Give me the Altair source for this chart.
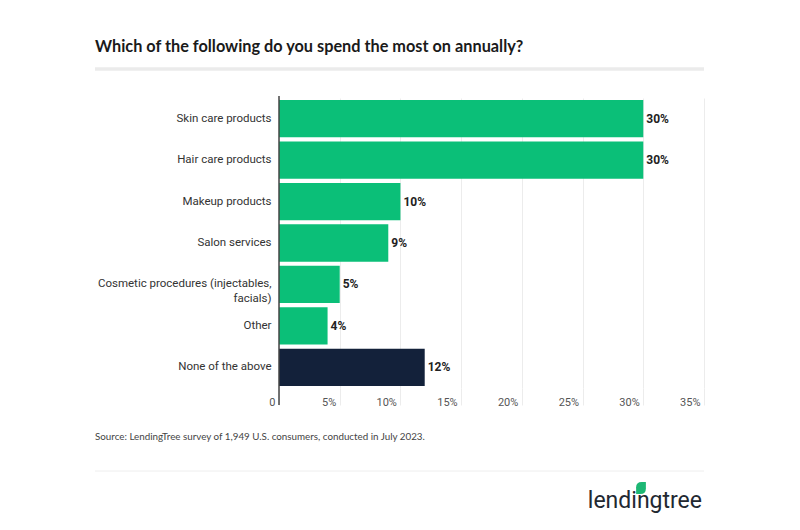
import altair as alt
import pandas as pd

categories = [
    "Skin care products",
    "Hair care products",
    "Makeup products",
    "Salon services",
    "Cosmetic procedures (injectables, facials)",
    "Other",
    "None of the above",
]
values = [30, 30, 10, 9, 5, 4, 12]
groups = ["a", "a", "a", "a", "a", "a", "b"]
tick_values = [0, 5, 10, 15, 20, 25, 30, 35]

title_text = "Which of the following do you spend the most on annually?"
source_text = "Source: LendingTree survey of 1,949 U.S. consumers, conducted in July 2023."
logo_text = "lendingtree"

df = pd.DataFrame({"cat": categories, "val": values, "grp": groups})
df["label"] = df["val"].astype(str) + "%"

W, H = 425, 290
GREEN = "#0bbf78"
NAVY = "#13213a"

xscale = alt.Scale(domain=[0, 35], nice=False)
ysort = categories

label_expr = (
    "datum.label == 'Cosmetic procedures (injectables, facials)' ? "
    "['Cosmetic procedures (injectables,', 'facials)'] : datum.label"
)

base = alt.Chart(df)

bars = base.mark_bar().encode(
    x=alt.X(
        "val:Q",
        scale=xscale,
        axis=alt.Axis(
            values=tick_values,
            title=None,
            domain=False,
            grid=True,
            gridColor="#ececec",
            gridWidth=1,
            ticks=True,
            tickSize=17,
            tickColor="#ececec",
            labelAlign="right",
            labelOffset=-4,
            labelPadding=-9,
            labelFont="Roboto",
            labelFontSize=11,
            labelColor="#555555",
            labelExpr="datum.value == 0 ? '0' : datum.value + '%'",
        ),
    ),
    y=alt.Y(
        "cat:N",
        sort=ysort,
        scale=alt.Scale(paddingInner=0.1, paddingOuter=0.05),
        axis=alt.Axis(
            title=None,
            domain=False,
            ticks=False,
            labelFont="Roboto",
            labelFontSize=11.5,
            labelColor="#333333",
            labelPadding=8,
            labelLimit=300,
            labelLineHeight=15,
            labelExpr=label_expr,
        ),
    ),
    color=alt.Color(
        "grp:N",
        scale=alt.Scale(domain=["a", "b"], range=[GREEN, NAVY]),
        legend=None,
    ),
)

texts = base.mark_text(
    align="left", baseline="middle", dx=3, font="Roboto", fontSize=12,
    fontWeight="bold", color="#222222",
).encode(
    x=alt.X("val:Q", scale=xscale),
    y=alt.Y("cat:N", sort=ysort),
    text="label:N",
)

zero_line = alt.Chart(pd.DataFrame({"z": [0]})).mark_rule(
    color="#444444", strokeWidth=1.5
).encode(
    x=alt.X("z:Q", scale=xscale),
    y=alt.value(-2),
    y2=alt.value(H + 17),
)

deco = pd.DataFrame({"t": [title_text]})
title = alt.Chart(deco).mark_text(
    align="left", baseline="alphabetic", font="Lato", fontSize=16.3,
    fontWeight="bold", color="#1a1a1a",
).encode(x=alt.value(-184), y=alt.value(-46), text="t:N")

top_line = alt.Chart(deco).mark_rule(color="#ebebeb", strokeWidth=3.5).encode(
    x=alt.value(-184), x2=alt.value(425), y=alt.value(-29)
)

source = alt.Chart(pd.DataFrame({"t": [source_text]})).mark_text(
    align="left", baseline="middle", font="Lato", fontSize=9.8, color="#444444"
).encode(x=alt.value(-184), y=alt.value(339), text="t:N")

bottom_line = alt.Chart(deco).mark_rule(color="#eeeeee", strokeWidth=1).encode(
    x=alt.value(-184), x2=alt.value(425), y=alt.value(373)
)

logo = alt.Chart(pd.DataFrame({"t": [logo_text]})).mark_text(
    align="right", baseline="alphabetic", font="Roboto", fontSize=23,
    fontWeight="normal", color="#222831",
).encode(x=alt.value(423), y=alt.value(410), text="t:N")

leaf_path = "M -0.8 1 L -0.8 -0.1 Q -0.8 -1 0.1 -1 L 0.8 -1 L 0.8 0.1 Q 0.8 1 -0.1 1 Z"
leaf = alt.Chart(deco).mark_point(
    shape=leaf_path, size=150, filled=True, color="#1db774", opacity=1
).encode(x=alt.value(362), y=alt.value(390))

chart = alt.layer(
    bars, texts, zero_line, title, top_line, source, bottom_line, logo, leaf
).properties(
    width=W,
    height=H,
    autosize=alt.AutoSizeParams(type="none"),
    padding={"left": 279, "top": 98, "right": 96, "bottom": 142},
    background="white",
).configure_view(stroke=None)

chart.save("out.html", embed_options={"renderer": "svg", "actions": False})
